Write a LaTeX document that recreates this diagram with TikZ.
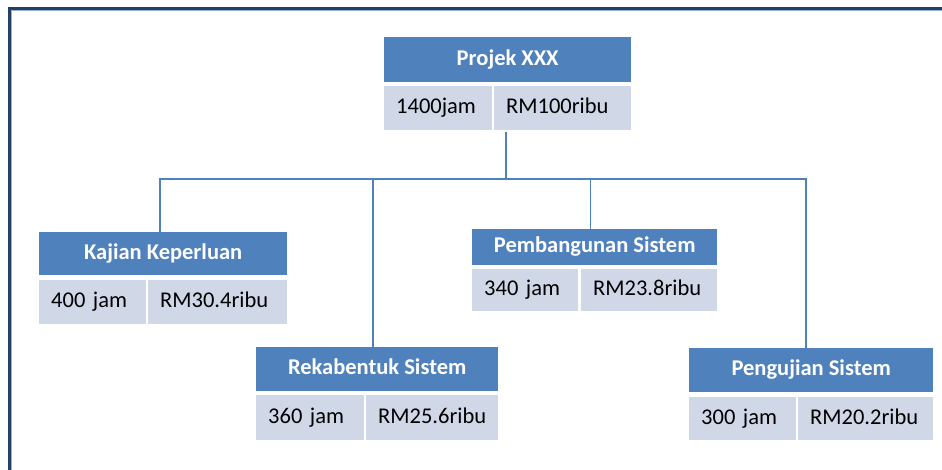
\documentclass[tikz,border=0pt]{standalone}
\usepackage{fontspec}
\setmainfont{Carlito}
\definecolor{hdrblue}{HTML}{4F81BD}
\definecolor{cellgrey}{HTML}{D0D8E8}
\definecolor{framenavy}{HTML}{243F60}
\definecolor{framelight}{HTML}{95B3D7}
\tikzset{
  hdr/.style={draw=none, fill=hdrblue, text=white, font=\fontsize{22.5}{26}\selectfont\bfseries,
    anchor=north west, inner sep=0pt, text height=15pt, text depth=4pt},
  cell/.style={draw=none, fill=cellgrey, text=black, font=\fontsize{22.5}{26}\selectfont,
    anchor=north west, inner xsep=12pt, inner ysep=0pt, align=left, text height=15pt, text depth=4pt},
  link/.style={draw=hdrblue, line width=1.5pt},
}
\begin{document}
\begin{tikzpicture}[x=1pt,y=-1pt]
\useasboundingbox (0,0) rectangle (942,470);
\fill[white] (0,0) rectangle (942,470);
% frame (left and top edges)
\draw[framenavy, line width=2.6pt] (9.3,470) -- (9.3,8.3) -- (942,8.3);
\draw[framelight, line width=0.8pt] (11.2,470) -- (11.2,10.2) -- (942,10.2);

% Projek XXX
\node[hdr, minimum width=247pt, minimum height=45pt] (ph) at (384,37) {Projek XXX};
\node[cell, text width=84pt, minimum height=44pt] (pa) at (384,86) {1400jam};
\node[cell, text width=113pt, minimum height=44pt] (pb) at (494,86) {RM100ribu};

% Kajian Keperluan
\node[hdr, minimum width=248pt, minimum height=43pt] (kh) at (39,232) {Kajian Keperluan};
\node[cell, text width=83pt, minimum height=44pt] (ka) at (39,280) {400 jam};
\node[cell, text width=115pt, minimum height=44pt] (kb) at (148,280) {RM30.4ribu};

% Rekabentuk Sistem
\node[hdr, minimum width=242pt, minimum height=44pt] (rh) at (256,347) {Rekabentuk Sistem};
\node[cell, text width=84pt, minimum height=45pt] (ra) at (256,395) {360 jam};
\node[cell, text width=108pt, minimum height=45pt] (rb) at (366,395) {RM25.6ribu};

% Pembangunan Sistem
\node[hdr, minimum width=245pt, minimum height=36pt] (bh) at (472,229) {Pembangunan Sistem};
\node[cell, text width=82pt, minimum height=42pt] (ba) at (472,269) {340 jam};
\node[cell, text width=112pt, minimum height=42pt] (bb) at (581,269) {RM23.8ribu};

% Pengujian Sistem
\node[hdr, minimum width=244pt, minimum height=44pt] (gh) at (689,348) {Pengujian Sistem};
\node[cell, text width=83pt, minimum height=43pt] (ga) at (689,397) {300 jam};
\node[cell, text width=111pt, minimum height=43pt] (gb) at (798,397) {RM20.2ribu};

% connectors
\coordinate (bus) at (506,179);
\coordinate (top) at (506,132);
\draw[link] (top) -- (bus);
\draw[link] ([xshift=-3pt]kh.north) |- (bus);
\draw[link] ([xshift=-4pt]rh.north) |- (bus);
\draw[link] ([xshift=-4pt]bh.north) |- (bus);
\draw[link] ([xshift=-5pt]gh.north) |- (bus);
\end{tikzpicture}
\end{document}
